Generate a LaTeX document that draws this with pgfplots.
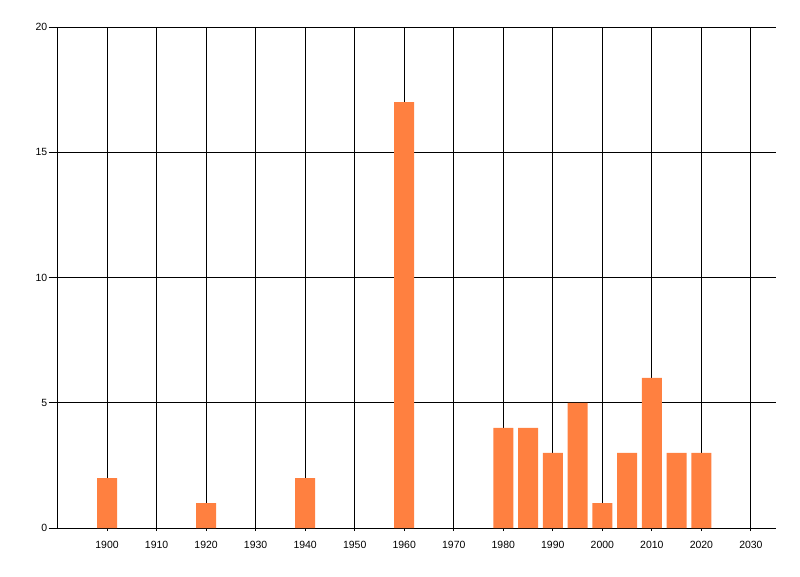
\documentclass[border=0pt]{standalone}
\usepackage{fontspec}
\setmainfont{Liberation Sans}
\usepackage{pgfplots}
\pgfplotsset{compat=1.18}
\definecolor{barorange}{RGB}{255,128,64}
\begin{document}
\begin{tikzpicture}
\begin{axis}[name=ax, scale only axis, width=718bp, height=501bp,
 xmin=1890, xmax=2035, ymin=0, ymax=20,
 xtick={1900,1910,...,2030}, ytick={0,5,10,15,20},
 axis x line=bottom, axis y line=left, axis line style={-, line width=1bp, black},
 xmajorgrids, ymajorgrids, major grid style={black, line width=1bp},
 tick align=outside, major tick length=9bp,
 x tick style={black, line width=1bp, yshift=6bp},
 y tick style={black, line width=1bp},
 tick label style={font=\fontsize{10.5}{12}\selectfont, black},
 /pgf/number format/assume math mode=true,
 x tick label style={/pgf/number format/1000 sep={}, inner sep=1bp, yshift=-3bp},
 y tick label style={inner sep=1bp},
 ybar, bar width=20bp,
]
\addplot[fill=barorange, draw=none] coordinates {(1900,2) (1920,1) (1940,2) (1960,17) (1980,4) (1985,4) (1990,3) (1995,5) (2000,1) (2005,3) (2010,6) (2015,3) (2020,3)};
\end{axis}
\pgfresetboundingbox
\path[use as bounding box] ([xshift=-57.5bp,yshift=-48bp]ax.south west) rectangle ([xshift=24.3bp,yshift=27bp]ax.north east);
\end{tikzpicture}
\end{document}
